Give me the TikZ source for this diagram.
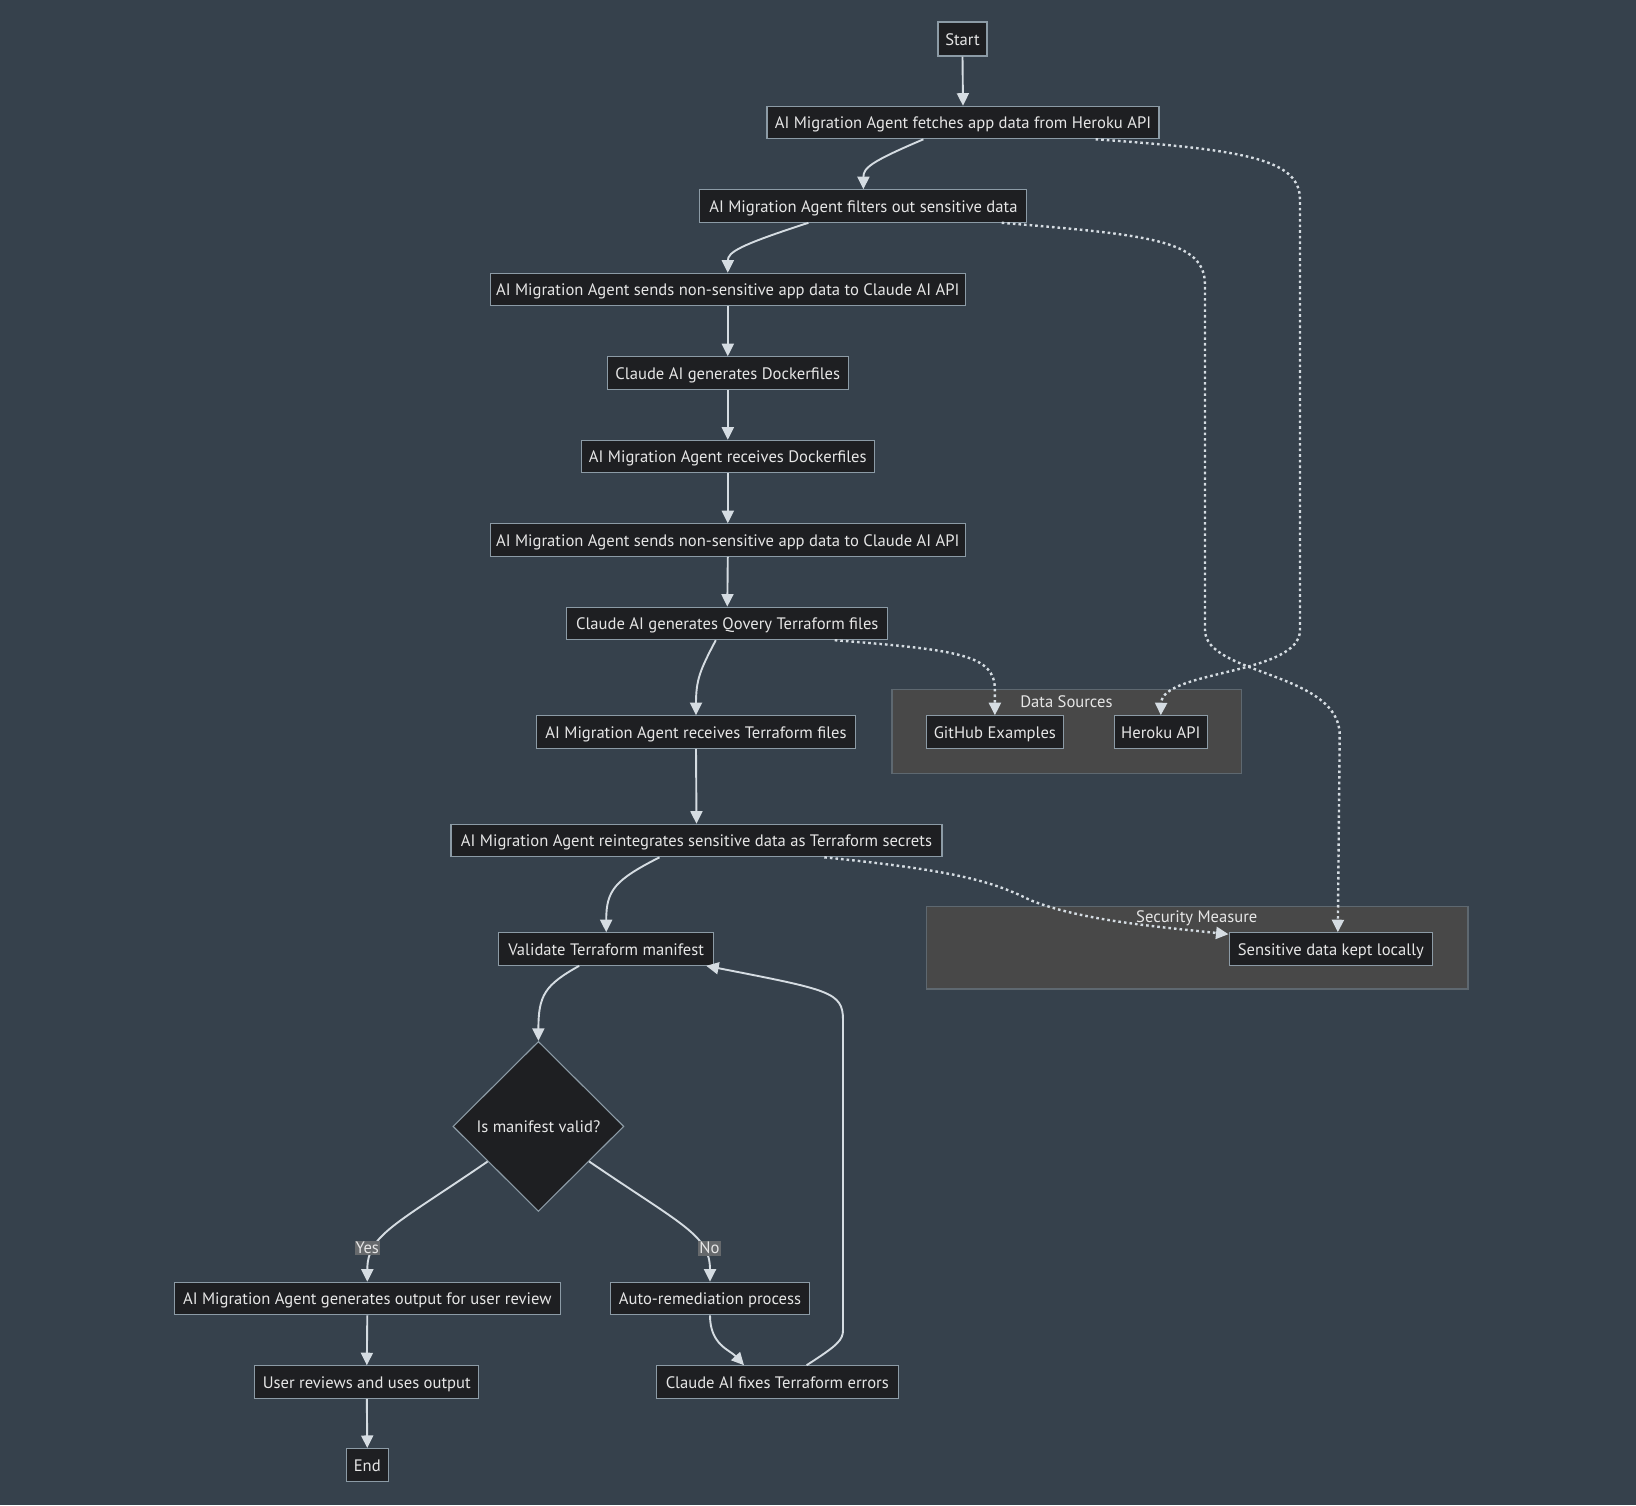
\documentclass[tikz,border=0pt]{standalone}
\usepackage{fontspec}
\setmainfont{PT Sans}
\usetikzlibrary{arrows.meta,shapes.geometric,calc}
\definecolor{bg}{HTML}{36414C}
\definecolor{nodefill}{HTML}{1E1F22}
\definecolor{nodeborder}{HTML}{8C9BA6}
\definecolor{subfill}{HTML}{484848}
\definecolor{subborder}{HTML}{5E6870}
\definecolor{txt}{HTML}{E6E6E6}
\definecolor{edge}{HTML}{D5DCE2}
\definecolor{lblfill}{HTML}{66696C}
\tikzset{
  box/.style={draw=nodeborder, fill=nodefill, line width=1.1pt, text=txt,
    minimum height=32.5pt, inner xsep=0pt, inner ysep=0pt,
    text height=13.5pt, text depth=1pt,
    font=\fontsize{16.6}{19}\selectfont},
  sub/.style={draw=subborder, fill=subfill, line width=1.1pt, inner sep=0pt},
  sublabel/.style={text=txt, inner sep=0pt, font=\fontsize{16.6}{19}\selectfont},
  flow/.style={draw=edge, line width=1.9pt, -{Triangle[length=12.5pt,width=12pt]}},
  dotflow/.style={draw=edge, line width=2.4pt, dash pattern=on 2.6pt off 3pt,
    -{Triangle[length=12.5pt,width=12pt,sep=0pt]}},
  elabel/.style={fill=lblfill, text=txt, inner xsep=1pt, inner ysep=1.5pt,
    font=\fontsize{16.6}{19}\selectfont},
  decision/.style={diamond, draw=nodeborder, fill=nodefill, line width=1.1pt,
    text=txt, inner sep=0pt, minimum width=171pt, minimum height=170pt,
    font=\fontsize{16.6}{19}\selectfont}
}
\begin{document}
\begin{tikzpicture}[x=1pt,y=-1pt]
\fill[bg] (0,0) rectangle (1636,1505);
\useasboundingbox (0,0) rectangle (1636,1505);

% subgraphs
\node[sub, minimum width=349.6pt, minimum height=83.5pt] (DS) at (1066.8,731.4) {};
\node[sublabel] (DSl) at (1066.4,701.2) {Data Sources};
\node[sub, minimum width=541.5pt, minimum height=82.3pt] (SM) at (1197.2,947.8) {};
\node[sublabel] (SMl) at (1196.8,918.2) {Security Measure};

% nodes
\node[box, minimum width=49pt, minimum height=34pt] (S) at (962.5,39) {Start};
\node[box, minimum width=392pt] (N1) at (963,122.5) {AI Migration Agent fetches app data from Heroku API};
\node[box, minimum width=327pt] (N2) at (863.4,206) {AI Migration Agent filters out sensitive data};
\node[box, minimum width=475pt] (N3) at (727.8,289.5) {AI Migration Agent sends non-sensitive app data to Claude AI API};
\node[box, minimum width=241pt] (N4) at (727.8,373) {Claude AI generates Dockerfiles};
\node[box, minimum width=293pt] (N5) at (727.8,456.5) {AI Migration Agent receives Dockerfiles};
\node[box, minimum width=475pt] (N6) at (727.8,540) {AI Migration Agent sends non-sensitive app data to Claude AI API};
\node[box, minimum width=321pt] (N7) at (727.3,623.4) {Claude AI generates Qovery Terraform files};
\node[box, minimum width=319pt] (N8) at (696,732) {AI Migration Agent receives Terraform files};
\node[box, minimum width=491pt] (N9) at (696.5,840.5) {AI Migration Agent reintegrates sensitive data as Terraform secrets};
\node[box, minimum width=215pt] (N10) at (606.2,949) {Validate Terraform manifest};
\node[decision] (D) at (538.4,1126.4) {Is manifest valid?};
\node[box, minimum width=386pt] (N11) at (367.3,1298.5) {AI Migration Agent generates output for user review};
\node[box, minimum width=199pt] (N12) at (710,1298.5) {Auto-remediation process};
\node[box, minimum width=224pt] (N13) at (366.8,1382) {User reviews and uses output};
\node[box, minimum width=242pt] (N14) at (777.3,1382) {Claude AI fixes Terraform errors};
\node[box, minimum width=42pt, minimum height=33pt] (E) at (367.3,1465) {End};
\node[box, minimum width=137pt] (GH) at (994.9,732) {GitHub Examples};
\node[box, minimum width=93pt] (HA) at (1160.8,732) {Heroku API};
\node[box, minimum width=203.5pt] (SD) at (1330.8,949) {Sensitive data kept locally};

% solid flow
\draw[flow] (S.south) -- (N1.north);
\draw[flow] ([xshift=-39.6pt]N1.south) .. controls (870,162) and (863.4,168) .. (N2.north);
\draw[flow] ([xshift=-55pt]N2.south) .. controls (740,245) and (727.8,252) .. (N3.north);
\draw[flow] (N3.south) -- (N4.north);
\draw[flow] (N4.south) -- (N5.north);
\draw[flow] (N5.south) -- (N6.north);
\draw[flow] (N6.south) -- (N7.north);
\draw[flow] ([xshift=-11.5pt]N7.south) .. controls (700,670) and (696,680) .. (N8.north);
\draw[flow] (N8.south) -- (N9.north);
\draw[flow] ([xshift=-37pt]N9.south) .. controls (615,880) and (606.2,890) .. (N10.north);
\draw[flow] ([xshift=-27pt]N10.south) .. controls (545,985) and (538.4,995) .. (D.north);
\draw[flow] ($(D.west)!0.41!(D.south)$) .. controls (395,1225) and (367.3,1235) .. (N11.north)
  node[elabel] (Ly) at (367.3,1248) {Yes};
\draw[flow] ($(D.east)!0.41!(D.south)$) .. controls (682,1225) and (710,1235) .. (N12.north)
  node[elabel] (Ln) at (709.5,1248) {No};
\draw[flow] (N11.south) -- (N13.north);
\draw[flow] (N13.south) -- (E.north);
\draw[flow] (N12.south) .. controls (710,1345) and (730,1350) .. ([xshift=-33.3pt]N14.north);
\coordinate (R1) at (843,1330);
\coordinate (R2) at (843,1020);
\draw[flow] ([xshift=29.3pt]N14.north) .. controls (838,1345) and (843,1340) .. (R1) -- (R2)
  .. controls (843,992) and (830,990) .. ([xshift=100pt]N10.south);

% dotted flows
\coordinate (P1) at (1300,200);
\coordinate (P2) at (1300,630);
\draw[dotflow] ([xshift=132.6pt]N1.south) .. controls (1250,150) and (1300,160) .. (P1) -- (P2)
  .. controls (1300,675) and (1162,670) .. (HA.north);
\coordinate (Q1) at (1205,285);
\coordinate (Q2) at (1205,630);
\coordinate (Q3) at (1339.7,735);
\draw[dotflow] ([xshift=138.3pt]N2.south) .. controls (1150,235) and (1205,240) .. (Q1) -- (Q2)
  .. controls (1205,675) and (1339.7,672) .. (Q3) -- ([xshift=7pt]SD.north);
\draw[dotflow] ([xshift=107.4pt]N7.south) .. controls (960,650) and (994.9,655) .. (994.9,690) -- (GH.north);
\coordinate (T1) at (1030,900);
\draw[dotflow] ([xshift=127.8pt]N9.south) .. controls (950,870) and (990,880) .. (T1)
  .. controls (1080,920) and (1150,926) .. ([yshift=-2pt]SD.north west);
\end{tikzpicture}
\end{document}
